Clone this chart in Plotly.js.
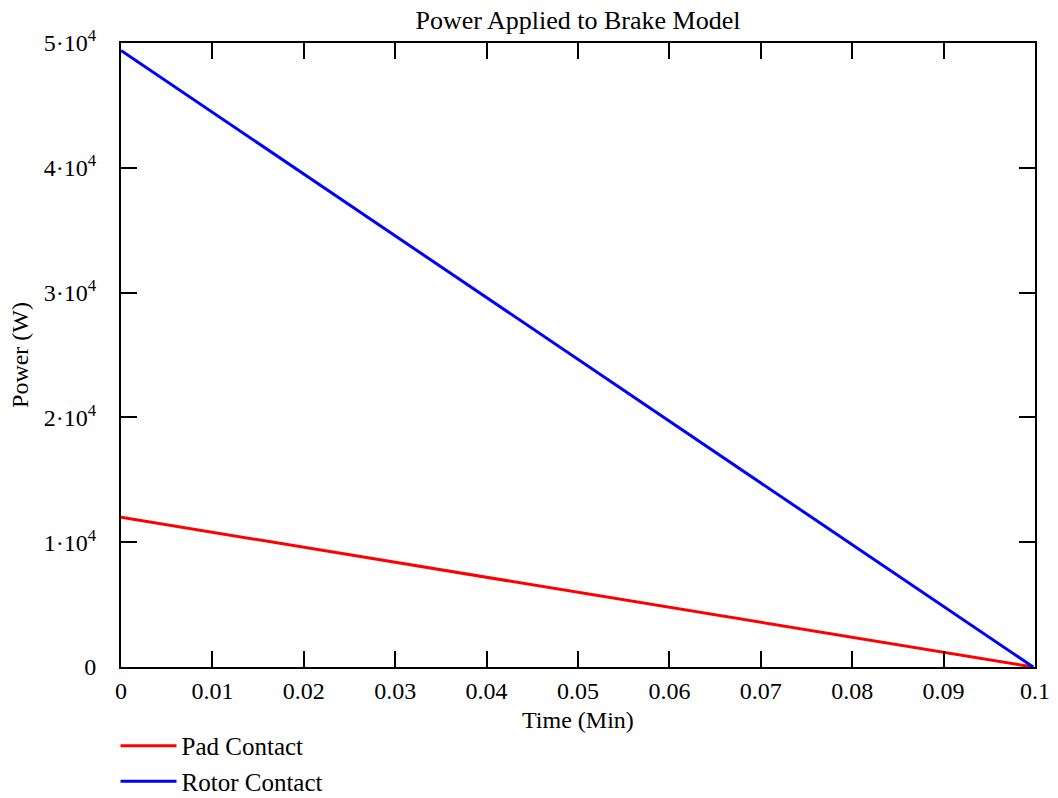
<!DOCTYPE html>
<html>
<head>
<meta charset="utf-8">
<script src="https://cdn.plot.ly/plotly-3.0.1.min.js"></script>
<style>html,body{margin:0;padding:0;background:#fff;}#chart{width:1058px;height:798px;}</style>
</head>
<body>
<div id="chart"></div>
<script>
const timeMin = [0, 0.0998];
const padContact = [12000, 0];
const rotorContact = [49400, 0];
const seriesNames = ["Pad Contact", "Rotor Contact"];
const xTickVals = [0, 0.01, 0.02, 0.03, 0.04, 0.05, 0.06, 0.07, 0.08, 0.09, 0.1];
const xTickText = ["0", "0.01", "0.02", "0.03", "0.04", "0.05", "0.06", "0.07", "0.08", "0.09", "0.1"];
const yTickVals = [0, 10000, 20000, 30000, 40000, 50000];
const yTickText = ["0", "1·10<sup>4</sup>", "2·10<sup>4</sup>", "3·10<sup>4</sup>", "4·10<sup>4</sup>", "5·10<sup>4</sup>"];
const xTitle = "Time (Min)";
const yTitle = "Power (W)";

const FONT = "Liberation Serif, Times New Roman, serif";

const traces = [
  {x: timeMin, y: padContact, name: seriesNames[0], mode: "lines", line: {color: "#ff0000", width: 3}},
  {x: timeMin, y: rotorContact, name: seriesNames[1], mode: "lines", line: {color: "#0000ff", width: 3}}
];

function axisCommon() {
  return {
    showline: true, linecolor: "#000", linewidth: 2, mirror: "ticks",
    ticks: "inside", ticklen: 16, tickwidth: 2, tickcolor: "#000",
    showgrid: false, zeroline: false, automargin: false,
    tickfont: {family: FONT, size: 24, color: "#000"}
  };
}

const layout = {
  width: 1058, height: 798,
  margin: {l: 121, r: 23, t: 43, b: 131, autoexpand: false},
  paper_bgcolor: "#fff", plot_bgcolor: "#fff",
  font: {family: FONT, color: "#000"},
  title: {text: "Power Applied to Brake Model", font: {family: FONT, size: 26, color: "#000"}, x: 0.5, xref: "paper", xanchor: "center", y: 0.975, yanchor: "middle"},
  xaxis: Object.assign(axisCommon(), {
    range: [0, 0.1], tickmode: "array", tickvals: xTickVals, ticktext: xTickText,
    ticklabelstandoff: 1
  }),
  yaxis: Object.assign(axisCommon(), {
    range: [0, 50000], tickmode: "array", tickvals: yTickVals, ticktext: yTickText,
    ticklabelstandoff: 18,
    title: {text: yTitle, font: {family: FONT, size: 24, color: "#000"}, standoff: 8}
  }),
  annotations: [
    {text: xTitle, xref: "paper", yref: "paper", x: 0.5, y: -0.085, xanchor: "center", yanchor: "middle",
     showarrow: false, font: {family: FONT, size: 24, color: "#000"}}
  ],
  showlegend: true,
  legend: {
    xref: "paper", x: -0.006, xanchor: "left",
    yref: "container", y: 0.094, yanchor: "top",
    font: {family: FONT, size: 25, color: "#000"},
    bgcolor: "rgba(0,0,0,0)", itemwidth: 56, tracegroupgap: 0
  }
};

Plotly.newPlot("chart", traces, layout, {displayModeBar: false, staticPlot: true});
</script>
</body>
</html>
